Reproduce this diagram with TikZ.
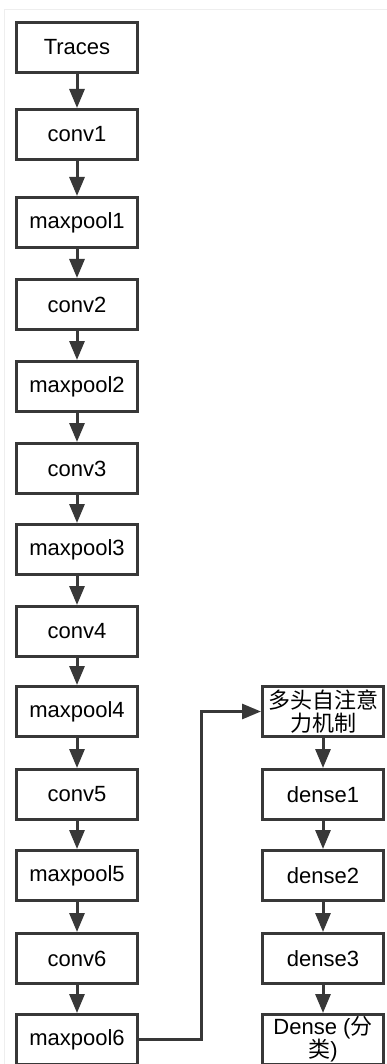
\documentclass[tikz,border=0pt]{standalone}
\usepackage{fontspec}
\setmainfont{Liberation Sans}
\newfontfamily\cjk{Noto Sans CJK SC}
\usetikzlibrary{arrows.meta}
\definecolor{linec}{HTML}{383838}
\definecolor{framec}{HTML}{EEEEEE}
\begin{document}
\begin{tikzpicture}[x=1pt,y=-1pt,
  layer/.style={draw=linec, line width=3pt, minimum width=121pt, minimum height=50pt,
    inner sep=0pt, fill=white, align=center, font=\fontsize{22}{25}\selectfont},
  flow/.style={draw=linec, line width=3pt, -{Triangle[length=19pt,width=15pt]}}]
  \useasboundingbox (0,0) rectangle (387,1064);
  % faint outer frame
  \draw[framec, line width=1pt] (4,1070) -- (4,10) -- (392,10);

  % encoder column
  \node[layer] (tr)  at (77,47.5)   {Traces};
  \node[layer] (c1)  at (77,134.5)  {conv1};
  \node[layer] (m1)  at (77,222.5)  {maxpool1};
  \node[layer] (c2)  at (77,304.5)  {conv2};
  \node[layer] (m2)  at (77,386.5)  {maxpool2};
  \node[layer] (c3)  at (77,468.5)  {conv3};
  \node[layer] (m3)  at (77,549.5)  {maxpool3};
  \node[layer] (c4)  at (77,631.5)  {conv4};
  \node[layer] (m4)  at (77,711.5)  {maxpool4};
  \node[layer] (c5)  at (77,794.5)  {conv5};
  \node[layer] (m5)  at (77,875.5)  {maxpool5};
  \node[layer] (c6)  at (77,958.5)  {conv6};
  \node[layer] (m6)  at (77,1039.5) {maxpool6};

  % head column
  \node[layer] (mha) at (323,711.5)  {{\cjk 多头自注意}\\[-2pt]{\cjk 力机制}};
  \node[layer] (d1)  at (323,794.5)  {dense1};
  \node[layer] (d2)  at (323,875.5)  {dense2};
  \node[layer] (d3)  at (323,958.5)  {dense3};
  \node[layer] (out) at (323,1039.5) {Dense ({\cjk 分}\\[-2pt]{\cjk 类})};

  \foreach \a/\b in {tr/c1,c1/m1,m1/c2,c2/m2,m2/c3,c3/m3,m3/c4,c4/m4,m4/c5,c5/m5,m5/c6,c6/m6,
                     mha/d1,d1/d2,d2/d3,d3/out}
    \draw[flow] (\a.south) -- (\b.north);

  \coordinate (turn) at (201,1039.5);
  \draw[flow] (m6.east) -- (turn) |- (mha.west);
\end{tikzpicture}
\end{document}
